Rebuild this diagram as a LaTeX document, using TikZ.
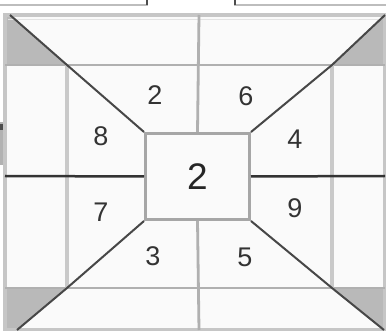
\documentclass[tikz,border=0pt]{standalone}
\usepackage{fontspec}
\setmainfont{Liberation Sans}
\begin{document}
\begin{tikzpicture}[x=1pt,y=-1pt,
  framestyle/.style={draw=gray!45,line width=3.4pt},
  gridline/.style={draw=gray!62,line width=2.8pt},
  lightline/.style={draw=gray!42,line width=3.2pt},
  darkline/.style={draw=black!80,line width=2.5pt},
  diagline/.style={draw=black!72,line width=2pt},
  hatch/.style={fill=gray!55},
  digit/.style={text=black!80,font=\fontsize{27}{27}\selectfont,inner sep=0pt},
  bigdigit/.style={text=black!85,font=\fontsize{37}{37}\selectfont,inner sep=0pt},
  cbox/.style={draw=gray!70,line width=3pt,fill=gray!4,minimum width=104pt,minimum height=86pt,inner sep=0pt},
  stub/.style={draw=gray!52,line width=2.5pt}]
\useasboundingbox (0,0) rectangle (386,331);
\clip (0,0) rectangle (386,331);
% boxes cropped at the top
\draw[stub] (-10,-10) rectangle (147,5);
\draw[draw=black!70,line width=2.5pt] (147,-10) -- (147,5);
\draw[stub] (235,-10) rectangle (400,5);
\draw[draw=black!70,line width=2.5pt] (235,-10) -- (235,5);
% mark on the left edge
\fill[gray!60] (-2,122) rectangle (7,165);
\fill[black!70] (-2,124) rectangle (7,130);
% frame
\coordinate (oTL) at (5,15);
\coordinate (oTR) at (385,15);
\coordinate (oBL) at (5,330);
\coordinate (oBR) at (385,330);
\fill[gray!4] (oTL) rectangle (oBR);
% inner corners
\coordinate (iTL) at (67,65);
\coordinate (iTR) at (332,65);
\coordinate (iBL) at (67,288);
\coordinate (iBR) at (332,288);
% hatched corner triangles
\fill[hatch] (5,15) -- (10,15) -- (iTL) -- (5,65) -- cycle;
\fill[hatch] (385,15) -- (iTR) -- (385,65) -- cycle;
\fill[hatch] (5,288) -- (iBL) -- (17,330) -- (5,330) -- cycle;
\fill[hatch] (385,288) -- (iBR) -- (384,330) -- (385,330) -- cycle;
\draw[framestyle] (oTL) rectangle (oBR);
\draw[draw=gray!22,line width=1.5pt] (8,19.5) -- (382,19.5);
% grid lines
\draw[gridline] (5,65) -- (385,65);
\draw[gridline] (5,288) -- (385,288);
\draw[lightline] (iTL) -- (iBL);
\draw[lightline] (iTR) -- (iBR);
% centre square
\node[cbox] (c) at (197.5,176.5) {};
\draw[gridline] (199,15) -- (c.north);
\draw[gridline] (c.south) -- (199,330);
\draw[darkline] (5,176) -- (c.west);
\draw[darkline] (c.east) -- (385,176);
% diagonals
\draw[diagline] (c.north west) -- (iTL) -- (10,15);
\draw[diagline] (c.north east) -- (iTR) -- (385,15);
\draw[diagline] (c.south west) -- (iBL) -- (17,330);
\draw[diagline] (c.south east) -- (iBR) -- (384,330);
% numbers
\node[bigdigit] (n0) at (c) {2};
\node[digit] (n1) at (155,95) {2};
\node[digit] (n2) at (246,96) {6};
\node[digit] (n3) at (101,136) {8};
\node[digit] (n4) at (295,139) {4};
\node[digit] (n5) at (101,212) {7};
\node[digit] (n6) at (295,208) {9};
\node[digit] (n7) at (153,256) {3};
\node[digit] (n8) at (245,257) {5};
\end{tikzpicture}
\end{document}
